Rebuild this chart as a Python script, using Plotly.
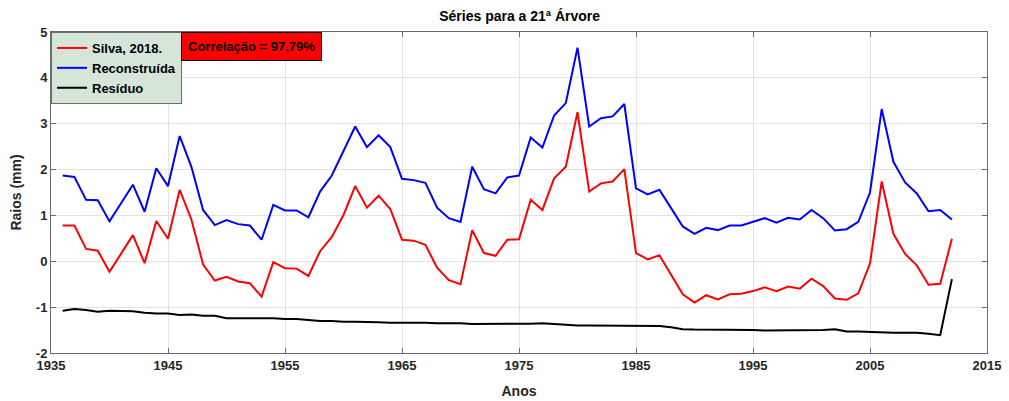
import plotly.graph_objects as go

years = list(range(1936, 2013))

silva = [0.78, 0.78, 0.27, 0.23, -0.23, 0.18, 0.57, -0.04, 0.88, 0.49,
         1.56, 0.91, -0.07, -0.42, -0.34, -0.44, -0.48, -0.77, -0.02, -0.15,
         -0.16, -0.32, 0.22, 0.53, 1.01, 1.64, 1.17, 1.43, 1.14, 0.47,
         0.45, 0.36, -0.14, -0.41, -0.50, 0.68, 0.18, 0.12, 0.47, 0.48,
         1.34, 1.12, 1.81, 2.06, 3.25, 1.52, 1.70, 1.74, 2.01, 0.18,
         0.04, 0.13, -0.29, -0.72, -0.90, -0.74, -0.83, -0.72, -0.71, -0.65,
         -0.57, -0.65, -0.55, -0.60, -0.38, -0.54, -0.81, -0.84, -0.70, -0.05,
         1.74, 0.60, 0.16, -0.09, -0.51, -0.49, 0.49]

reconstruida = [1.87, 1.84, 1.34, 1.33, 0.87, 1.27, 1.67, 1.08, 2.03, 1.64,
                2.73, 2.06, 1.12, 0.79, 0.90, 0.81, 0.78, 0.47, 1.23, 1.11,
                1.11, 0.96, 1.52, 1.87, 2.39, 2.94, 2.49, 2.75, 2.49, 1.80,
                1.77, 1.71, 1.17, 0.94, 0.86, 2.06, 1.57, 1.48, 1.83, 1.87,
                2.70, 2.48, 3.18, 3.45, 4.66, 2.94, 3.12, 3.16, 3.43, 1.59,
                1.46, 1.56, 1.16, 0.76, 0.60, 0.73, 0.68, 0.78, 0.78, 0.86,
                0.94, 0.84, 0.95, 0.91, 1.12, 0.94, 0.67, 0.70, 0.86, 1.50,
                3.32, 2.17, 1.72, 1.48, 1.09, 1.12, 0.91]

residuo = [-1.08, -1.04, -1.06, -1.10, -1.08, -1.08, -1.09, -1.12, -1.14, -1.14,
           -1.17, -1.16, -1.19, -1.19, -1.24, -1.24, -1.24, -1.24, -1.24, -1.26,
           -1.26, -1.28, -1.30, -1.30, -1.32, -1.32, -1.32, -1.33, -1.34, -1.34,
           -1.33, -1.34, -1.35, -1.35, -1.35, -1.37, -1.37, -1.36, -1.36, -1.37,
           -1.36, -1.35, -1.37, -1.38, -1.40, -1.40, -1.40, -1.40, -1.40, -1.40,
           -1.40, -1.41, -1.44, -1.48, -1.49, -1.49, -1.49, -1.49, -1.50, -1.50,
           -1.51, -1.51, -1.51, -1.51, -1.50, -1.50, -1.48, -1.53, -1.53, -1.54,
           -1.56, -1.56, -1.56, -1.56, -1.58, -1.61, -0.39]

x_ticks = [1935, 1945, 1955, 1965, 1975, 1985, 1995, 2005, 2015]
y_ticks = [-2, -1, 0, 1, 2, 3, 4, 5]

FONT = "Liberation Sans, Arial, sans-serif"

fig = go.Figure()
fig.add_trace(go.Scatter(x=years, y=silva, mode="lines", name="<b>Silva, 2018.</b>",
                         line=dict(color="#ff0000", width=2)))
fig.add_trace(go.Scatter(x=years, y=reconstruida, mode="lines", name="<b>Reconstruída</b>",
                         line=dict(color="#0000ff", width=2)))
fig.add_trace(go.Scatter(x=years, y=residuo, mode="lines", name="<b>Resíduo</b>",
                         line=dict(color="#000000", width=2)))

axis_common = dict(showline=True, linecolor="#6b6b6b", linewidth=1, mirror="ticks",
                   ticks="inside", ticklen=5, tickcolor="#6b6b6b",
                   showgrid=True, gridcolor="#e3e3e3", gridwidth=1, zeroline=False,
                   automargin=False,
                   tickfont=dict(family=FONT, size=13, color="#262626"))

fig.update_layout(
    width=1009, height=401,
    margin=dict(l=51, r=22, t=32, b=48, autoexpand=False),
    paper_bgcolor="white", plot_bgcolor="white",
    font=dict(family=FONT, color="#262626"),
    title=dict(text="<b>Séries para a 21ª Árvore</b>", x=0.515, xanchor="center",
               y=0.973, yanchor="top", automargin=False,
               font=dict(family=FONT, size=14, color="#000000")),
    xaxis=dict(range=[1935, 2015], tickvals=x_ticks,
               ticktext=[f"<b>{v}</b>" for v in x_ticks],
               ticklabelstandoff=0,
               title=dict(text="<b>Anos</b>", font=dict(family=FONT, size=14, color="#262626"), standoff=14),
               **axis_common),
    yaxis=dict(range=[-2, 5], tickvals=y_ticks,
               ticktext=[f"<b>{v}</b>" for v in y_ticks],
               title=dict(text="<b>Raios (mm)</b>", font=dict(family=FONT, size=14, color="#262626"), standoff=10),
               **axis_common),
    legend=dict(x=0, y=1, xanchor="left", yanchor="top", bgcolor="#d5e6d9",
                bordercolor="#6b6b6b", borderwidth=1,
                font=dict(family=FONT, size=13, color="#000000"),
                tracegroupgap=0, itemwidth=30),
    showlegend=True,
)

fig.add_annotation(xref="paper", yref="paper", x=0.139, y=1, xanchor="left", yanchor="top",
                   text="<b>Correlação = 97,79%</b>", showarrow=False,
                   bgcolor="#ff0000", bordercolor="#000000", borderwidth=1, borderpad=6,
                   font=dict(family=FONT, size=13, color="#000000"))

fig.write_html("out.html", config={"displayModeBar": False},
               post_script="document.body.style.margin='0';document.body.style.padding='0';")
